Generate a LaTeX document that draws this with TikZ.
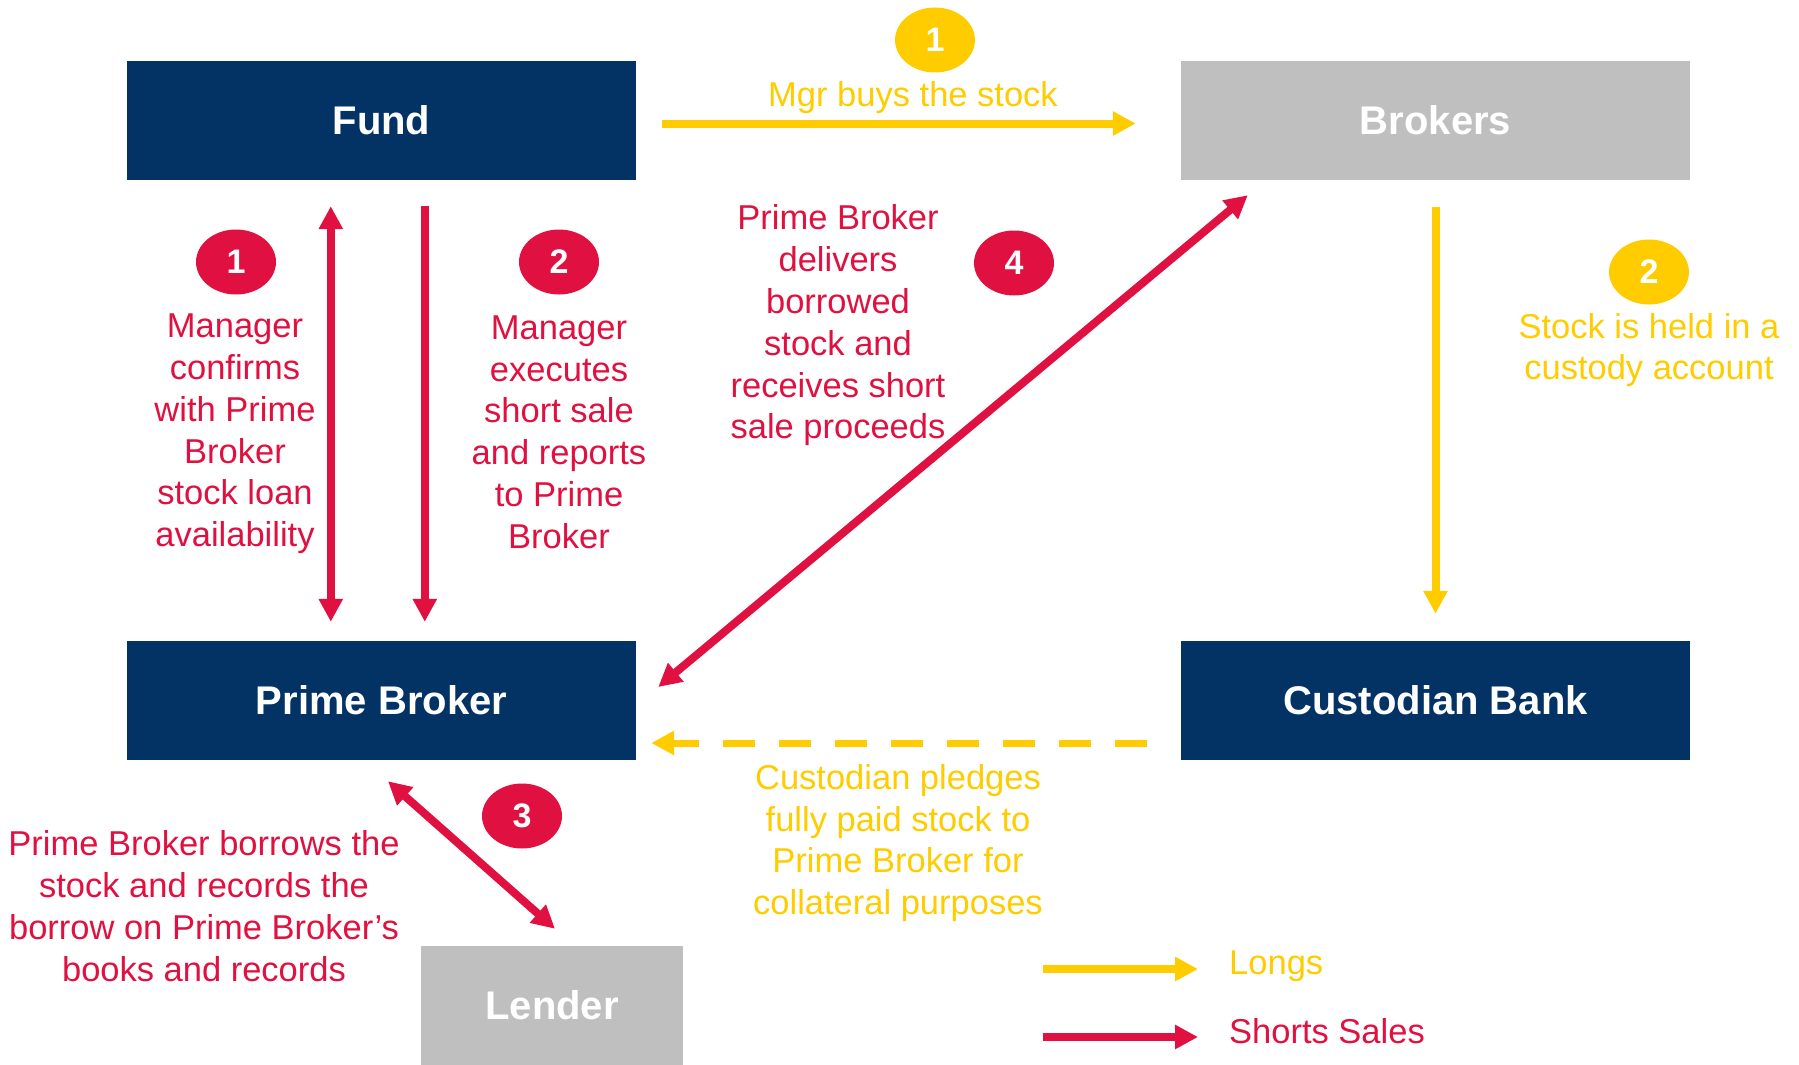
\documentclass[tikz,border=0pt]{standalone}
\usepackage{fontspec}
\setmainfont{Liberation Sans}
\usetikzlibrary{arrows.meta,shapes.geometric}
\definecolor{navy}{RGB}{2,51,100}
\definecolor{boxgrey}{RGB}{191,191,191}
\definecolor{shortred}{RGB}{224,17,64}
\definecolor{longyellow}{RGB}{255,204,0}
\begin{document}
\begin{tikzpicture}[x=1pt,y=-1pt,
  box/.style={rectangle,minimum width=509pt,minimum height=119pt,inner sep=0pt,
    text=white,font=\fontsize{40}{46}\selectfont\bfseries},
  darkbox/.style={box,fill=navy},
  greybox/.style={box,fill=boxgrey},
  badge/.style={ellipse,minimum width=80pt,minimum height=65pt,inner sep=0pt,
    text=white,font=\fontsize{34}{38}\selectfont\bfseries},
  redbadge/.style={badge,fill=shortred},
  yellowbadge/.style={badge,fill=longyellow},
  note/.style={align=center,inner sep=0pt,font=\fontsize{34.5}{41.8}\selectfont},
  rednote/.style={note,text=shortred},
  yellownote/.style={note,text=longyellow},
  tip/.tip={Triangle[length=23pt,width=23pt]},
  flow/.style={line width=8pt,-tip},
  flowtwo/.style={line width=8pt,tip-tip},
  redflow/.style={flow,draw=shortred},
  redflowtwo/.style={flowtwo,draw=shortred},
  yellowflow/.style={flow,draw=longyellow},
  pledge/.style={line width=7pt,draw=longyellow,-tip,dash pattern=on 32pt off 24pt}
]
\useasboundingbox (0,0) rectangle (1799,1065);

% parties
\node[darkbox] (fund) at (381.5,120.5) {Fund};
\node[greybox] (brokers) at (1435.5,120.5) {Brokers};
\node[darkbox] (pb) at (381.5,700.5) {Prime Broker};
\node[darkbox] (cust) at (1435.5,700.5) {Custodian Bank};
\node[greybox,minimum width=262pt] (lender) at (552,1005.5) {Lender};

% long side
\node[yellowbadge] (y1) at (935,40) {1};
\node[yellownote] (y1t) at (913,97.5) {Mgr buys the stock};
\draw[yellowflow,shorten <=26pt,shorten >=45pt] ([yshift=-3pt]fund.east) -- ([yshift=-3pt]brokers.west);

\node[yellowbadge] (y2) at (1649,272) {2};
\node[yellownote] (y2t) at (1649,350) {Stock is held in a\\custody account};
\draw[yellowflow,shorten <=27pt,shorten >=27pt] (brokers.south) -- (cust.north);

\node[yellownote] (y3t) at (898,843) {Custodian pledges\\fully paid stock to\\Prime Broker for\\collateral purposes};
\draw[pledge,shorten <=34pt,shorten >=15pt] ([yshift=-42.5pt]cust.west) -- ([yshift=-42.5pt]pb.east);

% short side
\node[redbadge] (r1) at (236,262) {1};
\node[rednote] (r1t) at (235,434) {Manager\\confirms\\with Prime\\Broker\\stock loan\\availability};
\draw[redflowtwo,shorten <=26pt,shorten >=19pt] ([xshift=204pt]fund.south west) -- ([xshift=204pt]pb.north west);

\node[redbadge] (r2) at (559,262) {2};
\node[rednote] (r2t) at (559,432) {Manager\\executes\\short sale\\and reports\\to Prime\\Broker};
\draw[redflow,shorten <=26pt,shorten >=19pt] ([xshift=298pt]fund.south west) -- ([xshift=298pt]pb.north west);

\node[redbadge] (r3) at (522,816) {3};
\node[rednote] (r3t) at (204,906) {Prime Broker borrows the\\stock and records the\\borrow on Prime Broker’s\\books and records};
\draw[redflowtwo] ([shift={(6.5,21)}]pb.south) -- ([shift={(3,-17)}]lender.north);

\node[redbadge] (r4) at (1014,263) {4};
\node[rednote] (r4t) at (838,325.5) {Prime Broker\\delivers\\borrowed\\stock and\\receives short\\sale proceeds};
\draw[redflowtwo] ([shift={(22,-13.5)}]pb.east) -- ([shift={(67,15)}]brokers.south west);

% legend
\coordinate (lga) at (1043,969);
\coordinate (lgb) at (1198,969);
\coordinate (lgc) at (1043,1037);
\coordinate (lgd) at (1198,1037);
\draw[yellowflow] (lga) -- (lgb);
\draw[redflow] (lgc) -- (lgd);
\node[yellownote,anchor=west] (lgl) at (1229,966.5) {Longs};
\node[rednote,anchor=west] (lgs) at (1229,1031.5) {Shorts Sales};
\end{tikzpicture}
\end{document}
